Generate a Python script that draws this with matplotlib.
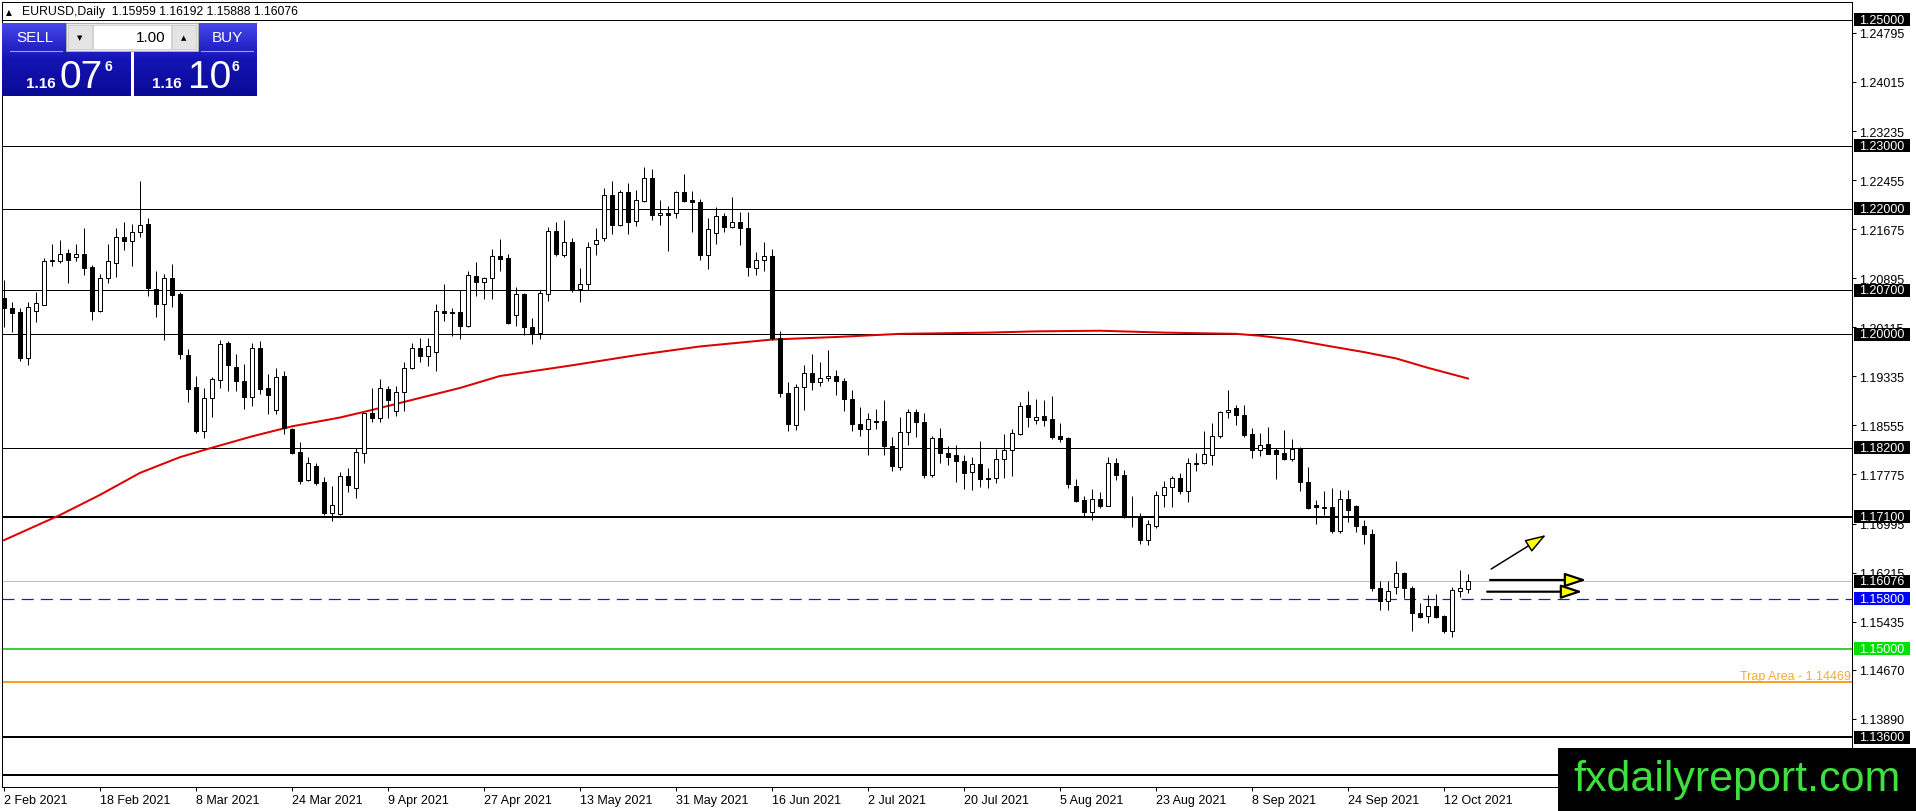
import numpy as np
import pandas as pd
import matplotlib
matplotlib.use("Agg")
import matplotlib.pyplot as plt
import matplotlib.transforms as mtransforms
from matplotlib.patches import Rectangle, FancyArrowPatch
from matplotlib.colors import LinearSegmentedColormap

plt.rcParams['font.family'] = ['Liberation Sans', 'DejaVu Sans']

# ---------------- data ----------------
symbol_header = "EURUSD,Daily  1.15959 1.16192 1.15888 1.16076"
dates = pd.bdate_range('2021-02-02', '2021-10-15')

opens = [
 1.20585,1.20426,1.20351,1.19631,1.20378,1.20473,1.21162,1.21168,1.21300,1.21231,
 1.21284,1.21067,1.20373,1.20903,1.21136,1.21555,1.21491,1.21634,1.21761,1.20728,
 1.20489,1.20903,1.20638,1.19678,1.19170,1.18465,1.18995,1.19281,1.19869,1.19488,
 1.19265,1.19011,1.19790,1.19143,1.18799,1.19344,1.18491,1.18125,1.17686,1.17913,
 1.17648,1.17166,1.17145,1.17754,1.17564,1.18120,1.18746,1.18677,1.19127,1.18788,
 1.19090,1.19461,1.19790,1.19662,1.19726,1.20378,1.20346,1.20351,1.20134,1.20924,
 1.20839,1.20903,1.21252,1.21210,1.20309,1.20643,1.20124,1.20028,1.20648,1.21650,
 1.21263,1.21475,1.20717,1.20802,1.21438,1.21528,1.22217,1.21740,1.22270,1.21809,
 1.22127,1.22493,1.21899,1.21936,1.21931,1.22259,1.22132,1.22111,1.21263,1.21618,
 1.21888,1.21714,1.21793,1.21698,1.21062,1.21184,1.21252,1.19938,1.19074,1.18566,
 1.19164,1.19391,1.19243,1.19307,1.19338,1.19259,1.18978,1.18576,1.18497,1.18624,
 1.18624,1.18227,1.17893,1.18449,1.18767,1.18608,1.17761,1.18359,1.18115,1.18079,
 1.17989,1.17809,1.17946,1.17719,1.17713,1.18026,1.18158,1.18423,1.18883,1.18640,
 1.18697,1.18654,1.18382,1.18350,1.17590,1.17370,1.17183,1.17387,1.17280,1.17959,
 1.17772,1.17103,1.17103,1.16734,1.16948,1.17456,1.17574,1.17724,1.17504,1.17959,
 1.17959,1.18082,1.18387,1.18761,1.18831,1.18713,1.18414,1.18162,1.18264,1.18157,
 1.18109,1.18019,1.18200,1.17647,1.17295,1.17247,1.17258,1.16869,1.17391,1.17274,
 1.16954,1.16832,1.15964,1.15767,1.15980,1.16204,1.15964,1.15565,1.15517,1.15676,
 1.15517,1.15288,1.15927,1.15959]
highs = [
 1.20866,1.20510,1.20426,1.20510,1.20669,1.21210,1.21443,1.21496,1.21353,1.21443,
 1.21698,1.21099,1.20956,1.21443,1.21698,1.21793,1.21751,1.22434,1.21846,1.21014,
 1.20956,1.21125,1.20669,1.19774,1.19334,1.19154,1.19323,1.19912,1.19896,1.19684,
 1.19525,1.19859,1.19896,1.19376,1.19472,1.19419,1.18518,1.18284,1.18057,1.17951,
 1.17739,1.17595,1.17807,1.17871,1.18200,1.18756,1.19154,1.19286,1.19185,1.19185,
 1.19567,1.19869,1.19938,1.19949,1.20484,1.20797,1.20426,1.20707,1.21003,1.21157,
 1.20919,1.21353,1.21512,1.21274,1.20760,1.20654,1.20267,1.20707,1.21714,1.21782,
 1.21820,1.21528,1.21062,1.21475,1.21687,1.22334,1.22440,1.22297,1.22403,1.22297,
 1.22668,1.22630,1.22138,1.22042,1.22286,1.22546,1.22286,1.22148,1.21857,1.22021,
 1.21926,1.22180,1.21952,1.21941,1.21305,1.21475,1.21353,1.20055,1.19243,1.19217,
 1.19518,1.19693,1.19561,1.19757,1.19439,1.19307,1.19111,1.18846,1.18751,1.18820,
 1.18963,1.18370,1.18687,1.18820,1.18809,1.18751,1.18386,1.18518,1.18227,1.18237,
 1.18079,1.18052,1.18306,1.17883,1.18184,1.18423,1.18502,1.18926,1.19095,1.18978,
 1.18954,1.19018,1.18590,1.18376,1.17708,1.17429,1.17547,1.17494,1.18055,1.18029,
 1.17852,1.17440,1.17162,1.17055,1.17510,1.17665,1.17750,1.17804,1.18029,1.18109,
 1.18467,1.18590,1.18788,1.19125,1.18874,1.18885,1.18521,1.18430,1.18526,1.18189,
 1.18483,1.18334,1.18216,1.17897,1.17375,1.17508,1.17561,1.17524,1.17524,1.17295,
 1.17045,1.16912,1.16086,1.16076,1.16395,1.16220,1.16007,1.15730,1.15863,1.15873,
 1.15538,1.15980,1.16257,1.16192]
lows = [
 1.20124,1.20044,1.19578,1.19514,1.20203,1.20468,1.21088,1.21141,1.20818,1.21168,
 1.20945,1.20230,1.20362,1.20818,1.20913,1.21343,1.21088,1.21549,1.20616,1.20277,
 1.19912,1.20436,1.19609,1.18931,1.18433,1.18359,1.18687,1.19143,1.19101,1.19101,
 1.18814,1.18862,1.19048,1.18735,1.18735,1.18417,1.18094,1.17622,1.17670,1.17606,
 1.17129,1.17039,1.17129,1.17500,1.17394,1.17961,1.18602,1.18602,1.18677,1.18703,
 1.18788,1.19451,1.19567,1.19503,1.19419,1.20214,1.19980,1.19927,1.20118,1.20611,
 1.20563,1.20558,1.21009,1.20161,1.20134,1.19991,1.19848,1.19927,1.20532,1.21252,
 1.21226,1.20669,1.20521,1.20707,1.21263,1.21486,1.21597,1.21724,1.21597,1.21724,
 1.22111,1.21820,1.21740,1.21327,1.21846,1.22100,1.21623,1.21184,1.21040,1.21433,
 1.21634,1.21698,1.21422,1.20934,1.20945,1.21009,1.19912,1.19005,1.18460,1.18476,
 1.18793,1.19111,1.19174,1.19254,1.19031,1.18777,1.18460,1.18386,1.18079,1.18502,
 1.18079,1.17830,1.17840,1.18248,1.18370,1.17724,1.17734,1.17962,1.17920,1.17655,
 1.17549,1.17523,1.17576,1.17560,1.17644,1.17719,1.17750,1.18407,1.18523,1.18581,
 1.18553,1.18339,1.18285,1.17558,1.17344,1.17108,1.17055,1.17237,1.17270,1.17681,
 1.17076,1.16932,1.16664,1.16648,1.16916,1.17263,1.17263,1.17461,1.17344,1.17825,
 1.17948,1.17932,1.18350,1.18670,1.18564,1.18376,1.18029,1.18066,1.18093,1.17708,
 1.18002,1.17993,1.17508,1.17231,1.16992,1.17125,1.16848,1.16848,1.17018,1.16859,
 1.16672,1.15927,1.15623,1.15623,1.15873,1.15810,1.15288,1.15490,1.15421,1.15485,
 1.15250,1.15197,1.15820,1.15888]
closes = [
 1.20426,1.20346,1.19620,1.20442,1.20495,1.21173,1.21178,1.21284,1.21189,1.21284,
 1.21056,1.20373,1.20903,1.21173,1.21555,1.21491,1.21629,1.21745,1.20738,1.20484,
 1.20903,1.20627,1.19689,1.19132,1.18465,1.18995,1.19286,1.19853,1.19514,1.19260,
 1.19005,1.19790,1.19132,1.19037,1.19329,1.18518,1.18110,1.17670,1.17951,1.17638,
 1.17156,1.17293,1.17754,1.17606,1.18125,1.18746,1.18677,1.19143,1.18958,1.19090,
 1.19472,1.19790,1.19662,1.19821,1.20378,1.20346,1.20362,1.20134,1.20950,1.20839,
 1.20903,1.21252,1.21199,1.20177,1.20638,1.20124,1.20018,1.20654,1.21650,1.21274,
 1.21475,1.20717,1.20802,1.21396,1.21502,1.22217,1.21740,1.22270,1.21793,1.22138,
 1.22493,1.21899,1.21936,1.21899,1.22259,1.22127,1.22111,1.21263,1.21671,1.21888,
 1.21714,1.21793,1.21698,1.21078,1.21184,1.21252,1.19938,1.19064,1.18581,1.19164,
 1.19386,1.19243,1.19307,1.19338,1.19259,1.18968,1.18571,1.18491,1.18661,1.18603,
 1.18221,1.17904,1.18449,1.18767,1.18603,1.17761,1.18359,1.18110,1.18047,1.17983,
 1.17798,1.17936,1.17697,1.17703,1.18020,1.18158,1.18433,1.18862,1.18682,1.18687,
 1.18644,1.18366,1.18339,1.17617,1.17360,1.17183,1.17387,1.17280,1.17959,1.17761,
 1.17103,1.17092,1.16734,1.16985,1.17451,1.17574,1.17724,1.17504,1.17959,1.17938,
 1.18093,1.18392,1.18767,1.18799,1.18713,1.18403,1.18162,1.18243,1.18098,1.18098,
 1.18018,1.18174,1.17657,1.17242,1.17258,1.17263,1.16869,1.17391,1.17205,1.16954,
 1.16821,1.15964,1.15767,1.15916,1.16204,1.15964,1.15565,1.15511,1.15676,1.15511,
 1.15288,1.15943,1.15964,1.16076]

# moving average (read at sample bars)
ma_bar = [0, 7, 12, 17, 22, 26, 31, 36, 42, 46, 51, 57, 62, 71, 79, 87, 96, 104,
          112, 123, 129, 137, 145, 154, 157, 161, 165, 170, 174, 178, 183]
ma_val = [1.1673, 1.1713, 1.1745, 1.1780, 1.1805, 1.1820, 1.1838, 1.1854, 1.1868,
          1.1880, 1.1896, 1.1915, 1.1934, 1.1951, 1.1967, 1.1981, 1.1992, 1.1996,
          1.2001, 1.2003, 1.2005, 1.2006, 1.2003, 1.2001, 1.1998, 1.1992, 1.1983,
          1.1972, 1.1962, 1.1947, 1.1930]

# horizontal levels
black_levels = [1.25, 1.23, 1.22, 1.207, 1.20, 1.182, 1.171, 1.136, 1.13]
black_level_widths = [1, 1, 1, 1, 1, 1, 2, 2, 2]
current_price = 1.16076
blue_level = 1.158
green_level = 1.15
trap_level = 1.14469
trap_label = "Trap Area - 1.14469"
boxed_black = [1.25, 1.23, 1.22, 1.207, 1.20, 1.182, 1.171, 1.16076, 1.136]

ytick_values = [1.24795, 1.24015, 1.23235, 1.22455, 1.21675, 1.20895, 1.20115,
                1.19335, 1.18555, 1.17775, 1.16995, 1.16215, 1.15435, 1.14670, 1.13890]

# arrows (bar index, price)
arrow_up = ((185.9, 1.16272), (192.75, 1.16813))
arrow_h1 = ((185.75, 1.16097), (197.8, 1.16097))
arrow_h2 = ((185.4, 1.15911), (197.3, 1.15911))

# ---------------- figure ----------------
W, H = 1916, 812
fig = plt.figure(figsize=(W / 100, H / 100), dpi=100)
fig.patch.set_facecolor('white')
L, R, T, B = 2, 1852, 3, 788
ax = fig.add_axes([L / W, 1 - B / H, (R - L) / W, (B - T) / H])
PX = 0.72  # points per pixel

x = np.arange(len(dates))
o = np.array(opens); h = np.array(highs); lo = np.array(lows); c = np.array(closes)

ax.set_xlim(-0.25, 231.0)
ax.set_ylim(1.12806, 1.25286)

# levels
for lv, w in zip(black_levels, black_level_widths):
    ax.axhline(lv, color='black', lw=w * PX, zorder=1)
ax.axhline(current_price, color='#c0c0c0', lw=1 * PX, zorder=1)
ax.axhline(blue_level, color='#1a1ac8', lw=1.2 * PX, ls=(0, (10, 6)), zorder=1)
ax.axhline(green_level, color='#3ad23a', lw=2 * PX, zorder=1)
ax.axhline(trap_level, color='#f5a020', lw=2 * PX, zorder=1)
ax.text(0.9995, trap_level + 3 / 6290, trap_label, transform=ax.get_yaxis_transform(),
        ha='right', va='baseline', color='#f2a93b', fontsize=9)

# moving average
ax.plot(ma_bar, ma_val, color='#dd0000', lw=2 * PX, zorder=2, solid_joinstyle='round')

# candles
ax.vlines(x, lo, h, color='black', lw=1 * PX, zorder=3)
body_lo = np.minimum(o, c)
body_h = np.maximum(np.abs(c - o), 1e-7)
colors = np.where(c >= o, 'white', 'black')
ax.bar(x, body_h, bottom=body_lo, width=0.6, color=colors, edgecolor='black',
       linewidth=1 * PX, zorder=4)

# arrows
for (p0, p1), lw in [(arrow_up, 1.5), (arrow_h1, 2.2), (arrow_h2, 2.2)]:
    arr = FancyArrowPatch(p0, p1, arrowstyle='-|>,head_length=1.0,head_width=0.33',
                          mutation_scale=13, fc='#ffff00', ec='black', lw=lw * PX,
                          shrinkA=0, shrinkB=0, zorder=6)
    ax.add_patch(arr)

# spines
for s in ax.spines.values():
    s.set_linewidth(1 * PX)
    s.set_color('black')

# y axis on right
ax.yaxis.tick_right()
ax.set_yticks(ytick_values)
ax.set_yticklabels([f"{v:.5f}" for v in ytick_values])
ax.tick_params(axis='y', direction='out', length=3, width=0.72, pad=2.2, labelsize=9,
               colors='black')

# x axis
tick_idx = x[::12]
ax.set_xticks(tick_idx)
ax.set_xticklabels([f"{d.day} {d.strftime('%b %Y')}" for d in dates[::12]])
ax.tick_params(axis='x', direction='out', length=3, width=0.72, pad=2, labelsize=9)
for t in ax.get_xticklabels():
    t.set_ha('left')

# boxed price labels
ytr = ax.get_yaxis_transform()
bx0 = (1854 - L) / (R - L)
bw = 56 / (R - L)
bh = 13 / 6290.0
bxc = (1882 - L) / (R - L)
def price_box(val, fc, tc='white'):
    ax.add_patch(Rectangle((bx0, val - bh / 2), bw, bh, transform=ytr, fc=fc, ec='none',
                           clip_on=False, zorder=8))
    ax.text(bxc, val, f"{val:.5f}", transform=ytr, ha='center', va='center', color=tc,
            fontsize=9, zorder=9, clip_on=False)
for v in boxed_black:
    price_box(v, 'black')
price_box(blue_level, '#0000ff')
price_box(green_level, '#00e000')

# ---------------- overlay (header, trade panel, watermark) ----------------
ov = fig.add_axes([0, 0, 1, 1], zorder=10)
ov.patch.set_alpha(0)
ov.axis('off')

ov.text(9, 12.5, "\u25b2", fontsize=5.5, ha='center', va='center', color='black',
        family=['DejaVu Sans'])
ov.text(22, 12.5, symbol_header, fontsize=8.8, ha='left', va='center', color='black')

cmap = LinearSegmentedColormap.from_list('panel', ['#4646ea', '#1414b4', '#0a0a96'])
grad = np.linspace(0, 1, 64).reshape(-1, 1)
for x0, x1 in [(2, 131), (134, 257)]:
    ov.imshow(grad, extent=(x0, x1, 97, 24), cmap=cmap, aspect='auto',
              interpolation='bilinear', zorder=1)
# middle strip
ov.add_patch(Rectangle((66, 24), 132, 28, fc='#e8e8e8', ec='#b0b0b0', lw=0.7, zorder=2))
ov.add_patch(Rectangle((68, 26), 24, 24, fc='#e4e4e4', ec='#c8c8c8', lw=0.5, zorder=3))
ov.add_patch(Rectangle((172, 26), 24, 24, fc='#e4e4e4', ec='#c8c8c8', lw=0.5, zorder=3))
ov.add_patch(Rectangle((93, 26), 78, 24, fc='white', ec='#c8c8c8', lw=0.5, zorder=3))
ov.text(80, 38, "\u25bc", fontsize=5, ha='center', va='center', color='black',
        family=['DejaVu Sans'], zorder=4)
ov.text(184, 38, "\u25b2", fontsize=5, ha='center', va='center', color='black',
        family=['DejaVu Sans'], zorder=4)
ov.text(166, 38.5, "1.00", fontsize=11, ha='right', va='center', color='black', zorder=4)
ov.text(35, 38.5, "SELL", fontsize=11, ha='center', va='center', color='white', zorder=4)
ov.text(227, 38.5, "BUY", fontsize=11, ha='center', va='center', color='white', zorder=4)
ov.plot([10, 62], [52, 52], color='#9a9aff', lw=0.8, zorder=4)
ov.plot([201, 253], [52, 52], color='#9a9aff', lw=0.8, zorder=4)
# bid / ask
ov.text(26, 88, "1.16", fontsize=11, fontweight='bold', ha='left', va='baseline',
        color='white', zorder=4)
ov.text(60, 88, "07", fontsize=28, ha='left', va='baseline', color='white', zorder=4)
ov.text(105, 71, "6", fontsize=10, fontweight='bold', ha='left', va='baseline',
        color='white', zorder=4)
ov.text(152, 88, "1.16", fontsize=11, fontweight='bold', ha='left', va='baseline',
        color='white', zorder=4)
ov.text(188, 88, "10", fontsize=28, ha='left', va='baseline', color='white', zorder=4)
ov.text(232, 71, "6", fontsize=10, fontweight='bold', ha='left', va='baseline',
        color='white', zorder=4)

# watermark
ov.add_patch(Rectangle((1558, 749), W - 1558, H - 749, fc='black', ec='none', zorder=5))
ov.text(1737, 791, "fxdailyreport.com", fontsize=31, ha='center', va='baseline',
        color='#3ee03e', zorder=6)

ov.set_xlim(0, W)
ov.set_ylim(H, 0)

fig.savefig('out.png', dpi=100)
